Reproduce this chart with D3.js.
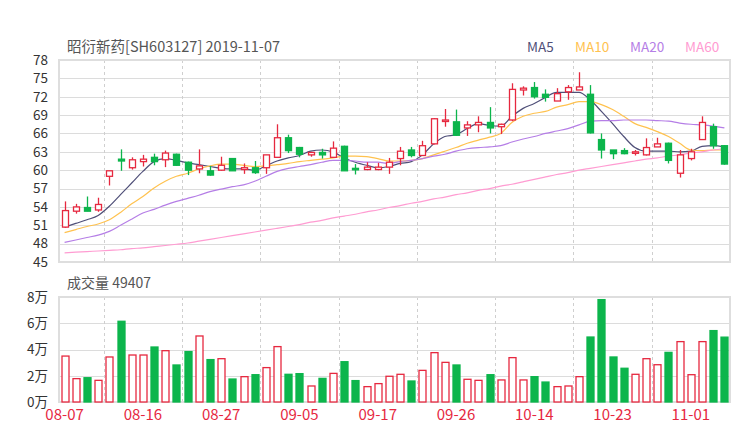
<!DOCTYPE html>
<html>
<head>
<meta charset="utf-8">
<script src="https://cdn.jsdelivr.net/npm/d3@7"></script>
<style>
  body { margin: 0; background: #fff; }
  svg { display: block; font-family: "Noto Sans CJK SC", "Noto Sans", sans-serif; }
</style>
</head>
<body>
<svg id="chart" width="740" height="440"></svg>
<script>
// trading days shown on the chart
var dates = ["08-07","08-08","08-09","08-12","08-13","08-14","08-15","08-16","08-19","08-20",
  "08-21","08-22","08-23","08-26","08-27","08-28","08-29","08-30","09-02","09-03",
  "09-04","09-05","09-06","09-09","09-10","09-11","09-12","09-16","09-17","09-18",
  "09-19","09-20","09-23","09-24","09-25","09-26","09-27","09-30","10-08","10-09",
  "10-10","10-11","10-14","10-15","10-16","10-17","10-18","10-21","10-22","10-23",
  "10-24","10-25","10-28","10-29","10-30","10-31","11-01","11-04","11-05","11-07"];

var open  = [50.7,53.3,53.9,53.5,59.0,61.8,60.4,61.4,62.1,61.7,
  62.6,61.3,60.2,59.9,60.0,61.9,60.1,60.4,60.4,62.1,
  65.3,63.7,62.5,62.9,62.1,63.9,60.3,60.1,60.1,60.5,
  61.9,63.3,62.4,64.3,68.0,67.9,66.9,67.4,67.8,67.1,
  68.2,73.1,73.5,72.4,71.3,72.8,73.1,72.4,65.0,63.3,
  63.2,62.9,62.5,63.8,64.4,59.5,61.9,65.0,67.1,64.0];
var close = [53.4,54.0,53.3,54.4,59.9,61.5,61.7,61.8,61.4,62.8,
  60.8,60.0,60.7,59.2,60.8,59.9,60.4,59.6,62.5,65.3,
  63.2,62.6,62.9,62.5,63.6,59.9,60.1,60.5,60.5,61.3,
  63.1,62.4,64.0,68.4,68.2,65.7,67.4,67.8,66.9,67.5,
  73.2,73.4,72.0,71.9,72.5,73.5,73.6,66.1,63.3,62.7,
  62.7,63.0,63.7,64.3,61.6,62.5,63.0,67.8,64.0,61.0];
var high  = [54.9,54.5,55.7,55.5,59.9,63.4,62.1,62.5,62.7,63.2,
  62.7,61.4,63.4,60.7,62.2,61.95,61.1,61.5,62.5,67.5,
  65.8,63.8,63.0,63.5,64.7,64.0,61.0,61.3,61.2,62.0,
  63.8,63.8,64.8,68.5,70.0,69.9,68.0,68.8,70.3,67.6,
  74.2,73.7,74.4,73.2,73.4,73.9,76.0,73.9,66.0,63.3,
  63.6,63.3,65.2,65.3,64.5,63.3,63.5,68.8,67.6,64.1];
var low   = [50.6,52.9,53.3,53.2,57.5,59.9,60.1,60.6,60.8,60.5,
  60.7,59.2,59.5,59.1,59.9,59.9,59.4,59.4,59.4,62.1,
  62.8,62.1,62.2,61.9,62.1,59.9,59.3,60.0,60.0,59.4,
  60.8,62.1,62.4,64.2,67.1,65.6,65.6,66.2,66.0,65.9,
  68.0,72.2,71.7,71.2,71.3,71.5,73.1,66.0,61.9,61.8,
  62.6,62.4,62.4,63.8,61.1,58.8,61.6,65.0,63.5,60.9];

var volume = [35000,17800,18500,16500,34300,61500,35800,35800,41900,39100,
  28200,38400,50300,32300,33000,17500,19300,20800,26200,42200,
  21100,21600,12200,18000,21800,30700,16300,11700,14000,19600,
  21100,16000,24100,37600,30200,28200,17300,16500,20800,16800,
  33800,16800,19300,15200,11700,12200,19300,49500,78000,34300,
  25700,21100,33000,28400,37800,46000,20800,46000,54400,49407];

var ma5  = [50.7,51.3,51.9,52.6,54.1,56.0,57.9,59.8,61.4,61.9,
  61.6,61.2,60.9,60.6,60.3,60.2,60.2,60.0,60.7,61.5,
  62.0,62.4,63.1,63.3,63.0,62.0,61.3,60.8,60.4,60.6,
  61.1,61.4,62.5,64.3,65.5,65.8,66.8,67.6,67.3,67.2,
  68.8,70.1,70.9,71.9,72.7,72.7,72.7,71.5,69.6,67.6,
  65.5,63.7,63.1,63.1,63.1,63.0,63.1,63.9,64.0,63.8];
var ma10 = [49.8,50.3,50.8,51.2,51.9,53.1,54.5,55.7,57.1,58.2,
  59.0,59.5,60.2,60.7,61.0,61.0,60.8,60.6,60.7,60.9,
  61.1,61.4,61.6,61.8,62.0,62.3,62.3,62.2,61.9,61.5,
  61.5,61.6,61.9,62.5,63.1,63.7,64.4,64.9,65.4,66.0,
  67.8,68.8,69.3,69.6,70.3,70.7,71.2,71.2,70.7,69.9,
  68.8,67.6,67.0,66.3,65.5,64.4,63.3,63.2,63.3,63.3];
var ma20 = [48.2,48.6,49.0,49.4,50.0,51.0,52.0,53.0,53.6,54.3,
  54.9,55.4,55.9,56.5,56.9,57.3,57.6,58.2,59.0,59.8,
  60.3,60.6,60.9,61.3,61.6,61.6,61.5,61.3,61.3,61.1,
  61.4,61.6,61.9,62.3,62.6,63.1,63.5,63.7,63.8,64.0,
  64.6,65.1,65.5,66.0,66.4,66.8,67.4,68.0,68.1,68.1,
  68.2,68.2,68.2,68.1,68.0,67.7,67.5,67.4,67.2,66.9];
var ma60 = [46.5,46.6,46.7,46.8,46.9,47.0,47.2,47.3,47.5,47.7,
  47.9,48.1,48.4,48.7,49.0,49.3,49.6,49.9,50.2,50.5,
  50.8,51.1,51.5,51.8,52.2,52.5,52.8,53.2,53.5,53.9,
  54.2,54.6,54.9,55.3,55.6,56.0,56.3,56.7,57.0,57.4,
  57.7,58.1,58.5,58.9,59.3,59.6,60.0,60.3,60.6,60.9,
  61.2,61.5,61.8,62.0,62.3,62.5,62.8,63.0,63.3,63.5];

var priceTicks = [45,48,51,54,57,60,63,66,69,72,75,78];
var volTicks = [0,20000,40000,60000,80000];
var maNames = ["MA5","MA10","MA20","MA60"];
var maColors = ["#4f4f78","#ffc24f","#b57ee6","#ff9cd2"];

var RED = "#e6283f", GREEN = "#0cb54c";

var svg = d3.select("#chart");
var left = 59, right = 730;
var mainTop = 60, mainBottom = 262;
var volTop = 297, volBottom = 402;

var x = d3.scaleBand().domain(dates).range([left, right]).padding(0);
var bw = x.bandwidth();
var cx = function(i) { return x(dates[i]) + bw / 2; };

var y = d3.scaleLinear().domain([45, 78]).range([mainBottom, mainTop]);
var yv = d3.scaleLinear().domain([0, 80000]).range([volBottom, volTop]);

// title and legend
svg.append("text").attr("x", 67).attr("y", 52).attr("font-size", 14.5)
  .attr("fill", "#555").text("昭衍新药[SH603127] 2019-11-07");

var legendX = [527, 575, 630, 685];
maNames.forEach(function(n, i) {
  svg.append("text").attr("x", legendX[i]).attr("y", 52).attr("font-size", 13.5)
    .attr("fill", maColors[i]).text(n);
});

svg.append("text").attr("x", 67).attr("y", 288).attr("font-size", 14)
  .attr("fill", "#555").text("成交量 49407");

// grids
function drawPanel(scale, ticks, top, bottom, fmt) {
  var g = svg.append("g");
  g.selectAll("line.h").data(ticks).enter().append("line")
    .attr("x1", left).attr("x2", right)
    .attr("y1", function(d) { return Math.round(scale(d)) + 0.5; })
    .attr("y2", function(d) { return Math.round(scale(d)) + 0.5; })
    .attr("stroke", "#dcdcdc").attr("stroke-width", 1);
  var vIdx = [4, 11, 18, 25, 32, 39, 46, 53];
  g.selectAll("line.v").data(vIdx).enter().append("line")
    .attr("x1", function(i) { return Math.round(x(dates[i])) + 0.5; })
    .attr("x2", function(i) { return Math.round(x(dates[i])) + 0.5; })
    .attr("y1", top).attr("y2", bottom)
    .attr("stroke", "#cfcfcf").attr("stroke-dasharray", "3,3");
  g.append("rect").attr("x", left).attr("y", top)
    .attr("width", right - left).attr("height", bottom - top)
    .attr("fill", "none").attr("stroke", "#dedede").attr("stroke-width", 2);

  var ax = svg.append("g").attr("transform", "translate(" + (left - 8) + ",0)")
    .call(d3.axisLeft(scale).tickValues(ticks).tickSize(0).tickFormat(fmt));
  ax.select(".domain").remove();
  ax.selectAll("text").attr("font-size", 13.5).attr("fill", "#333")
    .attr("font-family", "'Noto Sans CJK SC', sans-serif");
}
drawPanel(y, priceTicks, mainTop, mainBottom, d3.format("d"));
drawPanel(yv, volTicks, volTop, volBottom, function(d) { return (d / 10000) + "万"; });

// MA lines
var maSeries = [ma5, ma10, ma20, ma60];
maSeries.forEach(function(s, k) {
  svg.append("path").datum(s)
    .attr("fill", "none").attr("stroke", maColors[k]).attr("stroke-width", 1.2)
    .attr("d", d3.line().x(function(d, i) { return cx(i); })
      .y(function(d) { return y(d); }).curve(d3.curveMonotoneX));
});

// candles
var idx = d3.range(dates.length);
var candle = svg.append("g").selectAll("g").data(idx).enter().append("g");
candle.append("line")
  .attr("x1", function(i) { return Math.round(cx(i)) + 0.5; })
  .attr("x2", function(i) { return Math.round(cx(i)) + 0.5; })
  .attr("y1", function(i) { return y(high[i]); })
  .attr("y2", function(i) { return y(low[i]); })
  .attr("stroke", function(i) { return close[i] >= open[i] ? RED : GREEN; })
  .attr("stroke-width", 1.3);
candle.append("rect")
  .attr("x", function(i) { return Math.round(cx(i)) - 2.5; })
  .attr("width", 6)
  .attr("y", function(i) { return y(Math.max(open[i], close[i])); })
  .attr("height", function(i) { return Math.max(1.5, Math.abs(y(open[i]) - y(close[i]))); })
  .attr("fill", function(i) { return close[i] >= open[i] ? "#fff" : GREEN; })
  .attr("stroke", function(i) { return close[i] >= open[i] ? RED : GREEN; })
  .attr("stroke-width", 1.3);

// volume bars
svg.append("g").selectAll("rect").data(idx).enter().append("rect")
  .attr("x", function(i) { return Math.round(cx(i)) - 3; })
  .attr("width", 7)
  .attr("y", function(i) { return yv(volume[i]); })
  .attr("height", function(i) { return volBottom - yv(volume[i]); })
  .attr("fill", function(i) { return close[i] >= open[i] ? "#fff" : GREEN; })
  .attr("stroke", function(i) { return close[i] >= open[i] ? RED : GREEN; })
  .attr("stroke-width", 1.3);

// x axis labels
var xa = svg.append("g").attr("transform", "translate(0," + (volBottom + 4) + ")")
  .call(d3.axisBottom(x).tickValues(dates.filter(function(d, i) { return i % 7 === 0; })).tickSize(0));
xa.select(".domain").remove();
xa.selectAll("text").attr("font-size", 15).attr("fill", RED)
  .attr("font-family", "'Noto Sans CJK SC', sans-serif");
</script>
</body>
</html>
